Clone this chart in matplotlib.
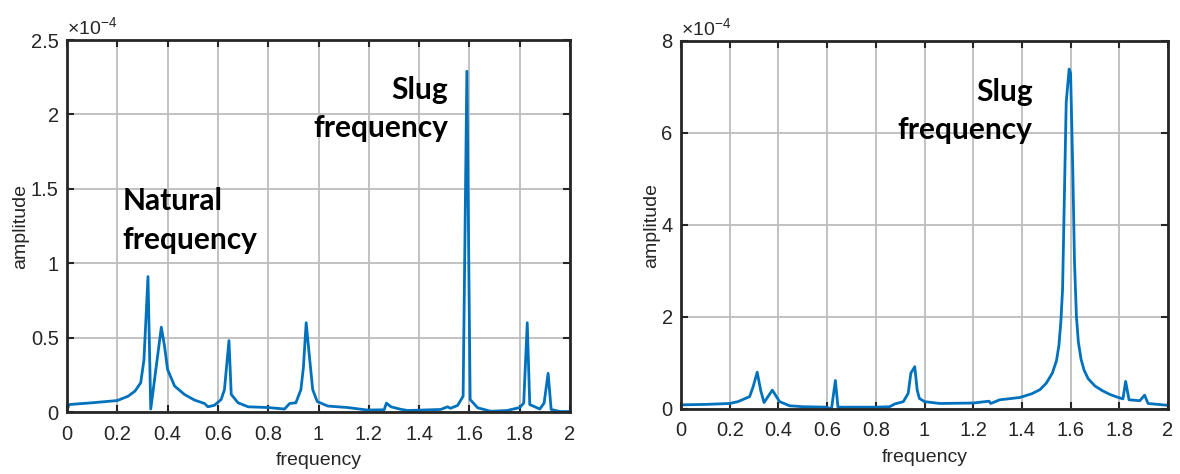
import matplotlib
matplotlib.use("Agg")
import matplotlib.pyplot as plt
import numpy as np

# Spectrum 1 (amplitude in units of 1e-4)
freq_a = [0.0, 0.008, 0.1, 0.2, 0.243, 0.27, 0.293, 0.306, 0.322, 0.333, 0.375,
          0.388, 0.40, 0.428, 0.467, 0.507, 0.547, 0.56, 0.586, 0.613, 0.626, 0.644,
          0.653, 0.68, 0.72, 0.80, 0.865, 0.885, 0.91, 0.93, 0.94, 0.951, 0.96, 0.977,
          0.995, 1.037, 1.116, 1.195, 1.261, 1.27, 1.288, 1.327, 1.355, 1.486, 1.513,
          1.525, 1.553, 1.575, 1.590, 1.603, 1.633, 1.685, 1.75, 1.80, 1.816, 1.83,
          1.84, 1.88, 1.897, 1.913, 1.925, 1.96, 2.0]
amp_a = [0.01, 0.05, 0.062, 0.077, 0.106, 0.14, 0.196, 0.35, 0.91, 0.02, 0.57,
         0.44, 0.285, 0.174, 0.118, 0.08, 0.057, 0.035, 0.045, 0.084, 0.15, 0.48,
         0.118, 0.062, 0.035, 0.03, 0.02, 0.057, 0.062, 0.15, 0.30, 0.60, 0.44, 0.15,
         0.07, 0.04, 0.03, 0.013, 0.015, 0.06, 0.035, 0.018, 0.01, 0.017, 0.035,
         0.025, 0.044, 0.106, 2.29, 0.084, 0.028, 0.005, 0.01, 0.03, 0.06, 0.60,
         0.05, 0.02, 0.06, 0.26, 0.017, 0.003, 0.003]

# Spectrum 2 (amplitude in units of 1e-4)
freq_b = [0.0, 0.1, 0.2, 0.234, 0.282, 0.296, 0.313, 0.327, 0.341, 0.375, 0.405,
          0.446, 0.5, 0.597, 0.618, 0.634, 0.645, 0.652, 0.80, 0.857, 0.878, 0.913,
          0.933, 0.944, 0.96, 0.97, 0.979, 1.0, 1.063, 1.2, 1.265, 1.272, 1.309,
          1.391, 1.44, 1.474, 1.50, 1.525, 1.542, 1.552, 1.560, 1.567, 1.574, 1.582,
          1.594, 1.600, 1.609, 1.616, 1.624, 1.632, 1.643, 1.655, 1.672, 1.70,
          1.73, 1.76, 1.79, 1.815, 1.826, 1.84, 1.884, 1.904, 1.918, 2.0]
amp_b = [0.09, 0.10, 0.12, 0.16, 0.27, 0.48, 0.80, 0.41, 0.14, 0.41, 0.16,
         0.07, 0.05, 0.04, 0.0, 0.62, 0.02, 0.04, 0.04, 0.05, 0.11, 0.16,
         0.34, 0.78, 0.92, 0.41, 0.23, 0.16, 0.12, 0.13, 0.17, 0.12, 0.2,
         0.25, 0.33, 0.42, 0.56, 0.78, 1.05, 1.38, 1.9, 2.6, 4.5, 6.67,
         7.39, 7.3, 5.2, 3.2, 2.0, 1.45, 1.08, 0.85, 0.66, 0.50,
         0.40, 0.32, 0.26, 0.22, 0.60, 0.2, 0.18, 0.30, 0.12, 0.08]

xticks = [0, 0.2, 0.4, 0.6, 0.8, 1, 1.2, 1.4, 1.6, 1.8, 2]
xtick_labels = ["0", "0.2", "0.4", "0.6", "0.8", "1", "1.2", "1.4", "1.6", "1.8", "2"]
yticks_a = [0, 0.5, 1, 1.5, 2, 2.5]
ytick_labels_a = ["0", "0.5", "1", "1.5", "2", "2.5"]
yticks_b = [0, 2, 4, 6, 8]
ytick_labels_b = ["0", "2", "4", "6", "8"]

plt.rcParams["font.family"] = ["Liberation Sans", "DejaVu Sans"]
plt.rcParams["mathtext.fontset"] = "custom"
plt.rcParams["mathtext.rm"] = "Liberation Sans"
plt.rcParams["mathtext.it"] = "Liberation Sans"

LINE = "#0072BD"
DARK = "#262626"
GRID = "#bdbdbd"

fig = plt.figure(figsize=(11.8, 4.74), dpi=100)
ax1 = fig.add_axes([67 / 1180, 1 - 412 / 474, 503 / 1180, 372 / 474])
ax2 = fig.add_axes([681 / 1180, 1 - 409 / 474, 487 / 1180, 368 / 474])


def style(ax, yt, ytl, ymax):
    ax.set_xlim(0, 2)
    ax.set_ylim(0, ymax)
    ax.set_xticks(xticks)
    ax.set_xticklabels(xtick_labels)
    ax.set_yticks(yt)
    ax.set_yticklabels(ytl)
    ax.grid(True, color=GRID, linewidth=1.3)
    ax.set_axisbelow(True)
    ax.tick_params(direction="in", length=5, width=1.5, colors=DARK,
                   labelsize=14.5, top=True, right=True)
    ax.tick_params(axis="x", pad=9)
    ax.tick_params(axis="y", pad=6)
    for s in ax.spines.values():
        s.set_color(DARK)
        s.set_linewidth(2.0)
    ax.set_xlabel("frequency", fontsize=14, color=DARK, labelpad=6)
    ax.set_ylabel("amplitude", fontsize=14, color=DARK, labelpad=1)
    ax.text(0, 1.004, r"$\times10^{-4}$", transform=ax.transAxes,
            fontsize=14, color=DARK, ha="left", va="bottom")


ax1.plot(freq_a, amp_a, color=LINE, linewidth=2.0)
style(ax1, yticks_a, ytick_labels_a, 2.5)
ax1.text(0.222, 1.51, "Natural\nfrequency", fontsize=21.5, fontweight="bold",
         family="Lato", ha="left", va="top", linespacing=1.45, color="black")
ax1.text(1.514, 2.26, "Slug\nfrequency", fontsize=21.5, fontweight="bold",
         family="Lato", ha="right", va="top", multialignment="right",
         linespacing=1.45, color="black")

ax2.plot(freq_b, amp_b, color=LINE, linewidth=2.0)
style(ax2, yticks_b, ytick_labels_b, 8)
ax2.text(1.444, 7.2, "Slug\nfrequency", fontsize=21.5, fontweight="bold",
         family="Lato", ha="right", va="top", multialignment="right",
         linespacing=1.45, color="black")

fig.savefig("out.png", dpi=100)
